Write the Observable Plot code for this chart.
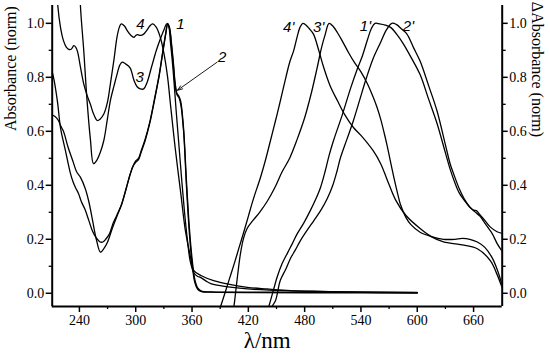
<!DOCTYPE html>
<html>
<head>
<meta charset="utf-8">
<script src="https://cdn.jsdelivr.net/npm/d3@7"></script>
<script src="https://cdn.jsdelivr.net/npm/@observablehq/plot@0.6"></script>
<style>
  html, body { margin: 0; padding: 0; background: #fff; }
  #chart { width: 550px; height: 353px; }
</style>
</head>
<body>
<div id="chart"></div>
<script>
// ---- axis ticks ----
const xDomain = [211, 690.5];
const yDomain = [-0.049, 1.066];
const xMajor = [240, 300, 360, 420, 480, 540, 600, 660];
const xMinor = [270, 330, 390, 450, 510, 570, 630];
const yMajor = [0, 0.2, 0.4, 0.6, 0.8, 1.0];
const yMinor = [0.1, 0.3, 0.5, 0.7, 0.9];

// ---- absorbance spectra (left axis), [nm, value] ----
const curve1 = [[211,0.82],[213,0.79],[216.6,0.71],[220,0.61],[225,0.53],[230,0.45],[233,0.415],[236,0.39],[239,0.37],[242,0.34],[246,0.31],[250,0.27],[254,0.23],[258,0.205],[262,0.19],[265,0.19],[268,0.2],[272,0.22],[276,0.26],[280,0.29],[285,0.33],[290,0.39],[294,0.44],[297,0.47],[300,0.49],[303,0.5],[306,0.53],[310,0.57],[315,0.635],[320,0.72],[325,0.81],[329,0.9],[332,0.965],[334,1.0],[336,0.985],[338,0.93],[340,0.86],[342,0.78],[344,0.74],[346,0.73],[348,0.71],[351,0.61],[354,0.42],[357,0.25],[360,0.13],[363,0.05],[366,0.02],[370,0.008],[380,0.005],[450,0.004],[540,0.003],[600,0.003]];
const curve2 = [[211,0.66],[214,0.655],[217.6,0.64],[220,0.62],[223,0.6],[228,0.54],[233,0.49],[237,0.45],[241,0.43],[246,0.39],[250,0.34],[254,0.27],[258,0.2],[262.4,0.152],[266,0.165],[270,0.19],[275,0.24],[280,0.285],[285,0.33],[290,0.39],[294,0.44],[297,0.47],[300,0.485],[303,0.495],[306,0.525],[310,0.565],[315,0.63],[320,0.715],[325,0.805],[329,0.895],[332,0.96],[334,0.995],[336,0.98],[338,0.92],[340,0.85],[342,0.77],[344,0.735],[346,0.725],[348,0.7],[351,0.6],[354,0.4],[357,0.23],[360,0.11],[363,0.04],[366,0.015],[370,0.006],[380,0.004],[600,0.002]];
const curve3 = [[238,1.4],[241,1.07],[244.6,0.9],[248,0.72],[251.7,0.57],[255,0.48],[258,0.49],[262,0.52],[266,0.566],[270,0.65],[273,0.714],[277,0.77],[280,0.81],[283,0.845],[285.5,0.856],[289,0.85],[294,0.835],[298,0.79],[301.5,0.765],[305,0.757],[308.5,0.757],[312,0.78],[317,0.84],[322,0.9],[326,0.94],[330,0.975],[333,0.998],[335,0.99],[337,0.93],[340,0.82],[343,0.68],[346,0.55],[349,0.42],[352,0.3],[355,0.2],[358,0.12],[362,0.075],[366,0.062],[369,0.059],[375,0.045],[380,0.036],[390,0.028],[419,0.016],[450,0.011],[500,0.006],[600,0.002]];
const curve4 = [[214,1.3],[216.6,1.08],[219.8,0.986],[223,0.936],[226,0.912],[229,0.903],[231.5,0.905],[234,0.917],[236,0.912],[238,0.895],[241,0.84],[244.6,0.776],[248,0.735],[251.7,0.7],[255,0.665],[259,0.64],[262,0.645],[266,0.664],[270,0.71],[273,0.776],[277,0.87],[280,0.948],[282.5,0.985],[284.5,0.998],[288,0.99],[291,0.973],[295,0.955],[298,0.948],[300,0.955],[302,0.958],[305,0.955],[308.5,0.96],[312,0.975],[315,0.99],[318,0.998],[322,0.985],[326,0.95],[330,0.89],[334,0.8],[337,0.7],[342,0.54],[348,0.37],[353,0.23],[358,0.14],[362,0.084],[370,0.065],[383,0.047],[400,0.033],[419,0.022],[440,0.016],[465,0.01],[500,0.007],[540,0.004],[600,0.002]];

// ---- difference spectra (right axis), [nm, value] ----
const curve1p = [[439,-0.08],[441.7,-0.05],[443.6,-0.027],[447,0.015],[450.7,0.06],[456,0.11],[461.4,0.147],[467,0.185],[472,0.22],[479,0.26],[486,0.306],[492,0.35],[497,0.393],[502,0.454],[506,0.51],[510.7,0.565],[520,0.66],[529,0.76],[536,0.83],[541.6,0.88],[547,0.94],[551,0.98],[555,1.0],[560,0.998],[566,0.993],[571.5,0.985],[578,0.96],[585,0.925],[594,0.87],[603,0.81],[612,0.72],[621,0.63],[630,0.52],[635,0.46],[640,0.41],[645,0.37],[650,0.345],[656,0.318],[662,0.3],[667,0.285],[672,0.26],[676,0.24],[680,0.22],[685,0.185],[690.5,0.155]];
const curve2p = [[443,-0.07],[445,-0.05],[449,-0.027],[454,0.047],[460,0.09],[465,0.13],[470,0.16],[475.5,0.195],[482,0.23],[490,0.27],[497,0.306],[504,0.35],[510,0.4],[514.6,0.454],[518,0.5],[525,0.57],[532,0.64],[539,0.72],[546,0.8],[553,0.87],[561,0.93],[567,0.975],[573,1.0],[578,0.995],[583,0.98],[589,0.96],[596,0.91],[603,0.86],[612,0.77],[621,0.676],[630,0.55],[635,0.48],[639,0.44],[645,0.385],[650,0.35],[656,0.32],[660,0.308],[663,0.306],[667,0.29],[672,0.27],[678,0.245],[685,0.228],[690.5,0.222]];
const curve3p = [[403,-0.07],[404.5,-0.05],[406,-0.01],[408,0.05],[411.6,0.147],[415,0.205],[418.7,0.24],[425,0.27],[432,0.3],[440,0.34],[448,0.39],[456,0.45],[464,0.5],[472,0.57],[480,0.65],[487,0.74],[493,0.83],[498,0.91],[502,0.96],[506,1.0],[510,0.99],[515,0.965],[520,0.935],[527,0.89],[533,0.855],[540,0.82],[547,0.775],[552,0.735],[557,0.69],[561,0.645],[565,0.59],[568,0.545],[571,0.495],[575,0.43],[579,0.37],[582,0.33],[588,0.28],[593,0.255],[603,0.226],[615,0.21],[628,0.2],[640,0.2],[648,0.203],[656,0.2],[664,0.19],[672,0.17],[680,0.13],[686,0.08],[690.5,0.03]];
const curve4p = [[388,-0.07],[390.3,-0.05],[395,0.0],[400,0.055],[405,0.11],[410,0.168],[415,0.225],[420,0.285],[425,0.345],[433,0.43],[438,0.49],[443.6,0.566],[449,0.64],[454.2,0.714],[460,0.8],[464,0.855],[468.4,0.9],[472,0.95],[475,0.985],[478,1.0],[481,0.995],[485,0.98],[489.4,0.96],[495,0.9],[500,0.84],[507,0.77],[515,0.713],[523,0.66],[532,0.614],[540,0.585],[553,0.528],[561,0.48],[568,0.42],[577,0.345],[588,0.288],[603,0.24],[615,0.21],[628,0.19],[646,0.18],[664,0.165],[678,0.12],[685,0.07],[690.5,0.02]];

const seriesNames = ["1", "2", "3", "4", "1'", "2'", "3'", "4'"];
const seriesPoints = [curve1, curve2, curve3, curve4, curve1p, curve2p, curve3p, curve4p];

// ---- curve labels ----
const labelText = ["4", "1", "3", "2", "4'", "3'", "1'", "2'"];
const labelNm   = [305, 347.6, 304.3, 392, 463, 495, 544.8, 590.6];
const labelVal  = [0.998, 0.998, 0.8, 0.874, 0.985, 0.985, 0.991, 0.991];

// ---- arrow for curve 2 ----
const arrowFrom = [386.7, 0.856];
const arrowTo = [344.5, 0.752];

const rows = seriesNames.flatMap((s, i) => seriesPoints[i].map(([nm, v]) => ({series: s, nm, v})));
const labels = labelText.map((t, i) => ({t, nm: labelNm[i], v: labelVal[i]}));

const serif = "Liberation Serif";
const sans = "Liberation Sans";

const chart = Plot.plot({
  width: 550,
  height: 353,
  marginLeft: 51.7,
  marginRight: 48.3,
  marginTop: 5,
  marginBottom: 47,
  x: {domain: xDomain},
  y: {domain: yDomain},
  style: {fontFamily: serif, fontSize: "14px", color: "black", background: "white"},
  marks: [
    Plot.axisX({ticks: xMajor, tickSize: 6, tickPadding: 3, strokeWidth: 1.5, label: null, fontFamily: serif, fontSize: 14, tickFormat: d => String(d)}),
    Plot.axisX({ticks: xMinor, tickSize: 3, strokeWidth: 1.3, label: null, tickFormat: () => ""}),
    Plot.axisY({anchor: "left", ticks: yMajor, tickSize: 6, tickPadding: 2, strokeWidth: 1.5, label: null, fontFamily: serif, fontSize: 14, tickFormat: d => d.toFixed(1)}),
    Plot.axisY({anchor: "left", ticks: yMinor, tickSize: 3, strokeWidth: 1.3, label: null, tickFormat: () => ""}),
    Plot.axisY({anchor: "right", ticks: yMajor, tickSize: 5, tickPadding: 2, strokeWidth: 1.5, label: null, fontFamily: serif, fontSize: 14, tickFormat: d => d.toFixed(1)}),
    Plot.axisY({anchor: "right", ticks: yMinor, tickSize: 3, strokeWidth: 1.3, label: null, tickFormat: () => ""}),
    Plot.line(rows, {x: "nm", y: "v", z: "series", stroke: "black", strokeWidth: 1.3, curve: "catmull-rom", clip: true}),
    Plot.ruleX([xDomain[0], xDomain[1]], {stroke: "black", strokeWidth: 2}),
    Plot.ruleY([yDomain[0]], {stroke: "black", strokeWidth: 2}),
    Plot.arrow([{x1: arrowFrom[0], y1: arrowFrom[1], x2: arrowTo[0], y2: arrowTo[1]}], {x1: "x1", y1: "y1", x2: "x2", y2: "y2", stroke: "black", strokeWidth: 0.9, headLength: 9, headAngle: 40}),
    Plot.text(labels, {x: "nm", y: "v", text: "t", fontFamily: sans, fontStyle: "italic", fontSize: 15, fill: "black"}),
    Plot.text(["Absorbance (norm)"], {frameAnchor: "left", dx: -41, dy: -25, rotate: -90, fontFamily: serif, fontSize: 16, fill: "black"}),
    Plot.text(["\u0394Absorbance (norm)"], {frameAnchor: "right", dx: 35, dy: -19, rotate: 90, fontFamily: serif, fontSize: 16, fill: "black"}),
    Plot.text(["\u03bb/nm"], {frameAnchor: "bottom", dx: -10, dy: 41, lineAnchor: "bottom", fontFamily: serif, fontSize: 23, fill: "black"})
  ]
});
document.getElementById("chart").appendChild(chart);
</script>
</body>
</html>
